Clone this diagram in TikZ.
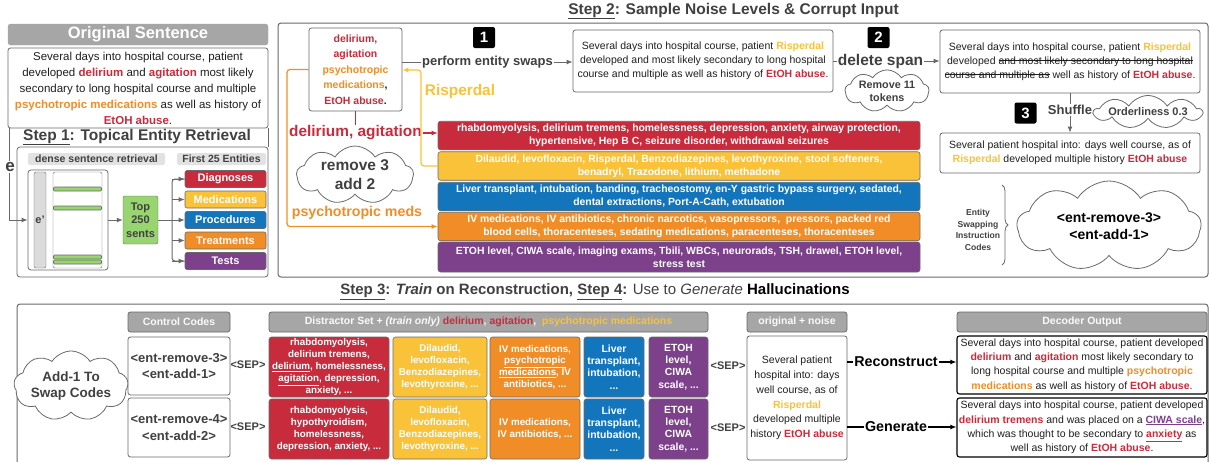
\documentclass[tikz,border=0pt]{standalone}
\usepackage{fontspec}
\setmainfont{Liberation Sans}
\usetikzlibrary{positioning,calc,arrows.meta,shapes.symbols,decorations.pathreplacing}

\definecolor{entred}{RGB}{200,43,60}
\definecolor{entyellow}{RGB}{250,194,56}
\definecolor{entorange}{RGB}{241,141,38}
\definecolor{entblue}{RGB}{19,118,189}
\definecolor{entpurple}{RGB}{125,64,138}
\definecolor{entgreen}{RGB}{152,212,112}
\definecolor{headgray}{RGB}{166,166,166}
\definecolor{lblgray}{RGB}{226,226,226}
\definecolor{txtgray}{RGB}{64,64,64}
\definecolor{boxgray}{RGB}{105,105,105}

\newcommand{\fsz}[2]{\fontsize{#1pt}{#2pt}\selectfont}
\newcommand{\entR}[1]{\textbf{\textcolor{entred}{#1}}}
\newcommand{\entY}[1]{\textbf{\textcolor{entyellow}{#1}}}
\newcommand{\entO}[1]{\textbf{\textcolor{entorange}{#1}}}
\newsavebox\strkbox
\newcommand{\strk}[1]{\sbox\strkbox{#1}\rlap{\rule[0.3em]{\wd\strkbox}{0.7pt}}\usebox\strkbox}

\begin{document}
\begin{tikzpicture}[x=1pt,y=-1pt,
  every node/.style={text=txtgray},
  wh/.style 2 args={minimum width=#1pt,minimum height=#2pt},
  sbox/.style={draw=boxgray,fill=white,rounded corners=2.5pt,line width=0.8pt,align=center,inner sep=0pt,text=black!88},
  head/.style={draw=headgray,fill=headgray,rounded corners=2.5pt,text=white,inner sep=0pt},
  hdr/.style={draw=boxgray,fill=headgray,rounded corners=2.5pt,text=white!96!gray,font=\bfseries\fsz{10.5}{12},inner sep=0pt,line width=0.8pt},
  lbl/.style={fill=lblgray,rounded corners=2pt,font=\bfseries\fsz{10.5}{12},inner sep=0pt},
  panel/.style={draw=boxgray,rounded corners=3pt,line width=0.8pt},
  frame/.style={draw=boxgray,line width=1pt},
  title/.style={font=\bfseries\fsz{15.5}{18},inner sep=0pt},
  catbox/.style={draw=boxgray,rounded corners=2pt,text=white,font=\bfseries\fsz{11}{12},inner sep=0pt,line width=0.6pt,wh={81}{17}},
  catL/.style={draw=boxgray,rounded corners=2.5pt,text=white,font=\bfseries\fsz{10.4}{13},align=center,inner sep=0pt,line width=0.6pt,wh={482}{28.5}},
  dbox/.style={draw=boxgray,rounded corners=2.5pt,text=white,font=\bfseries\fsz{9.8}{11.8},align=center,inner sep=0pt,line width=0.6pt},
  badge/.style={fill=black,rounded corners=2pt,text=white,font=\bfseries\fsz{15}{15},wh={22}{21},inner sep=0pt},
  cloudy/.style={cloud,cloud puffs=9,cloud puff arc=115,cloud ignores aspect,draw=boxgray,fill=white,line width=0.8pt,align=center,inner sep=0pt},
  conn/.style={draw=boxgray,line width=1pt},
  arr/.style={-{Latex[length=6pt,width=5pt]}},
  sep/.style={font=\bfseries\fsz{11}{12},inner sep=0pt},
  decbox/.style={sbox,draw=black,line width=1.1pt,font=\fsz{10.5}{14.3}}]

\useasboundingbox (0,0) rectangle (1210,461);

% step 1
\node[head,wh={260}{21},font=\bfseries\fsz{16.5}{18}] (origHead) at (138,34.5) {Original Sentence};
\node[sbox,wh={260}{80},font=\fsz{11.5}{16}] (origSent) at (138,88) {Several days into hospital course, patient\\
  developed \entR{delirium} and \entR{agitation} most likely\\
  secondary to long hospital course and multiple\\
  \entO{psychotropic medications} as well as history of\\
  \entR{EtOH abuse}.};
\node[title] (step1) at (137,137) {\underline{Step 1}: Topical Entity Retrieval};
\node[panel,wh={251}{130}] (retrPanel) at (142.5,212) {};
\draw[conn] (origSent.south east) -- (retrPanel.north east);
\node[lbl,wh={137}{12}] (denseLbl) at (96.5,159) {dense sentence retrieval};
\node[lbl,wh={89}{12}] (firstLbl) at (221.5,159) {First 25 Entities};
\node[panel,wh={80}{100}] (retrBox) at (68,220) {};
\node[draw=boxgray,fill=gray!28,rounded corners=2pt,wh={12}{96},font=\bfseries\fsz{11}{12},inner sep=0pt] (ebar) at (40,220) {e'};
\node[draw=boxgray,fill=white,rounded corners=2pt,wh={49}{96}] (docbar) at (77.5,220) {};
\foreach \y in {189,208,257,262}
  \draw[fill=entgreen,draw=boxgray,line width=0.6pt,rounded corners=1pt] (53.5,\y-2) rectangle (101.5,\y+2);
\node[draw=boxgray,fill=entgreen,rounded corners=2pt,wh={35}{48},font=\bfseries\fsz{11}{13.5},align=center,inner sep=0pt] (top250) at (140.5,220) {Top\\250\\sents};
\node[catbox,fill=entred] (diag) at (225.5,179) {Diagnoses};
\node[catbox,fill=entyellow] (meds) at (225.5,199.5) {Medications};
\node[catbox,fill=entblue] (proc) at (225.5,220) {Procedures};
\node[catbox,fill=entorange] (treat) at (225.5,240.5) {Treatments};
\node[catbox,fill=entpurple] (tests) at (225.5,261) {Tests};
\coordinate (branch) at (172,220);
\draw[conn,arr] (retrBox.east) -- (top250.west);
\draw[conn] (top250.east) -- (branch);
\draw[conn,rounded corners=3pt] (diag.west) -| (branch) |- (tests.west);
\foreach \n in {diag,meds,proc,treat,tests}
  \draw[conn,arr] (branch |- \n) -- (\n.west);
\draw[conn,arr] ($(origSent.south west)+(2,0)$) |- (retrBox.west);
\node[fill=white,inner sep=1pt,font=\bfseries\fsz{17}{18}] (eLbl) at (10,167) {e};

% step 2
\node[title] (step2) at (733.5,11) {\underline{Step 2}: Sample Noise Levels \& Corrupt Input};
\draw[frame,rounded corners=3pt] (278,23) rectangle (1208,277);
\node[sbox,wh={93}{83},font=\bfseries\fsz{10.5}{15.5}] (entBox) at (355.5,69.5) {\textcolor{entred}{delirium,}\\
  \textcolor{entred}{agitation}\\ \textcolor{entorange}{psychotropic}\\
  \textcolor{entorange}{medications},\\ \textcolor{entred}{EtOH abuse}.};
\node[badge] (bOne) at (484,37.5) {1};
\node[font=\bfseries\fsz{13}{14},inner sep=1pt] (swaps) at (487.5,62) {perform entity swaps};
\node[sbox,wh={260}{62},font=\fsz{10.5}{14}] (sent2) at (703,61) {Several days into hospital course, patient \entY{Risperdal}\\
  developed and most likely secondary to long hospital\\
  course and multiple as well as history of \entR{EtOH abuse}.};
\draw[conn] (entBox.east |- swaps) -- (swaps.west);
\draw[conn,arr] (swaps.east) -- (sent2.west |- swaps);
\node[badge] (bTwo) at (878.5,37.5) {2};
\node[font=\bfseries\fsz{15.5}{16},inner sep=1pt] (delSpan) at (880.5,61) {delete span};
\node[cloudy,wh={84}{38},font=\bfseries\fsz{10.8}{13}] (rmEleven) at (887,91) {Remove 11\\tokens};
\node[sbox,wh={260}{63},font=\fsz{10.5}{14}] (sent3) at (1070,61.5) {Several days into hospital course, patient \entY{Risperdal}\\
  developed \strk{and most likely secondary to long hospital}\\
  \strk{course and multiple as} well as history of \entR{EtOH abuse}.};
\draw[conn] (sent2.east |- delSpan) -- (delSpan.west);
\draw[conn,arr] (delSpan.east) -- (sent3.west |- delSpan);
\node[sbox,wh={260}{40},font=\fsz{10.5}{14}] (sent4) at (1070,153) {Several patient hospital into: days well course, as of\\
  \entY{Risperdal} developed multiple history \entR{EtOH abuse}};
\node[fill=white,font=\bfseries\fsz{13}{14},inner sep=1.5pt] (shuf) at (1070,110) {Shuffle};
\draw[conn] (sent3.south) -- (shuf.north);
\draw[conn,arr] (shuf.south) -- (sent4.north);
\node[badge] (bThree) at (1025.5,113) {3};
\node[cloudy,wh={96}{33},font=\bfseries\fsz{11}{12}] (order) at (1148,112) {Orderliness 0.3};

\node[catL,fill=entred] (redL) at (679,135.5) {rhabdomyolysis, delirium tremens, homelessness, depression, anxiety, airway protection,\\
  hypertensive, Hep B C, seizure disorder, withdrawal seizures};
\node[catL,fill=entyellow] (yelL) at (679,166) {Dilaudid, levofloxacin, Risperdal, Benzodiazepines, levothyroxine, stool softeners,\\
  benadryl, Trazodone, lithium, methadone};
\node[catL,fill=entblue] (bluL) at (679,196.5) {Liver transplant, intubation, banding, tracheostomy, en-Y gastric bypass surgery, sedated,\\
  dental extractions, Port-A-Cath, extubation};
\node[catL,fill=entorange] (orgL) at (679,226.5) {IV medications, IV antibiotics, chronic narcotics, vasopressors,\ \ pressors, packed red\\
  blood cells, thoracenteses, sedating medications, paracenteses, thoracenteses};
\node[catL,fill=entpurple,wh={482}{30}] (purL) at (679,257) {ETOH level, CIWA scale, imaging exams, Tbili, WBCs, neurorads, TSH, drawel, ETOH level,\\
  stress test};

\node[font=\bfseries\fsz{15.4}{16},text=entred,inner sep=1pt] (delAg) at (355.5,133) {delirium, agitation};
\draw[draw=entred,line width=1.2pt] (entBox.south) -- (delAg.north);
\draw[draw=entred,line width=1.2pt,arr] (delAg.east) -- (redL.west |- delAg);
\coordinate (risTurn) at (421,70);
\draw[draw=entyellow,line width=1.2pt,rounded corners=3pt,arr] (yelL.west) -| (risTurn) -- (entBox.east |- risTurn);
\node[font=\bfseries\fsz{15.4}{16},text=entyellow,inner sep=0pt] (risLbl) at (460,92) {Risperdal};
\coordinate (psyTurn) at (287,226.5);
\draw[draw=entorange,line width=1.2pt,rounded corners=3pt,arr] (entBox.west) -| (psyTurn) -- (orgL.west);
\node[font=\bfseries\fsz{14.2}{15},text=entorange,inner sep=0pt] (psyLbl) at (357,213) {psychotropic meds};
\node[cloudy,wh={117}{54},font=\bfseries\fsz{15.5}{19}] (rmThree) at (355,175) {remove 3\\add 2};

\node[font=\bfseries\fsz{8.6}{11.7},align=center,inner sep=0pt] (codesLbl) at (978,230) {Entity\\Swapping\\Instruction\\Codes};
\draw[draw=boxgray,line width=0.8pt,decorate,decoration={brace,amplitude=6pt}] (1002,185) -- (1002,265);
\node[cloudy,wh={184}{90},font=\bfseries\fsz{14}{17},text=black] (codeCloud) at (1109,226) {<ent-remove-3>\\<ent-add-1>};

% step 3
\node[title,font=\fsz{15}{18}] (step3) at (595,292) {\textbf{\underline{Step 3}: \textit{Train} on Reconstruction, \underline{Step 4}:} Use to \textit{Generate} \textbf{\textcolor{black}{Hallucinations}}};
\draw[frame,rounded corners=3pt] (17,463) -- (17,304) -- (1208,304) -- (1208,463);

\node[hdr,wh={102}{20}] (ctrlHead) at (179,322) {Control Codes};
\node[sbox,wh={102}{58},font=\bfseries\fsz{13}{16.5},text=txtgray] (codeA) at (179,366) {<ent-remove-3>\\<ent-add-1>};
\node[sbox,wh={102}{59},font=\bfseries\fsz{13}{16.5},text=txtgray] (codeB) at (179,427.5) {<ent-remove-4>\\<ent-add-2>};
\node[cloudy,wh={100}{70},font=\bfseries\fsz{13.5}{16}] (addOne) at (71,386) {Add-1 To\\Swap Codes};
\node[sep] (sepA) at (248,365) {<SEP>};
\node[sep] (sepB) at (248,427) {<SEP>};

\node[hdr,wh={439}{20}] (distHead) at (488.5,322) {Distractor Set + \textit{(train only)} \textcolor{entred}{delirium}, \textcolor{entred}{agitation},\ \ \textcolor{entyellow}{psychotropic medications}};
\node[dbox,fill=entred,wh={120}{60}] (dRedA) at (329,367) {rhabdomyolysis,\\ delirium tremens,\\ \underline{delirium}, homelessness,\\ \underline{agitation}, depression,\\ anxiety, ...};
\node[dbox,fill=entyellow,wh={94}{60}] (dYelA) at (440,367) {Dilaudid,\\ levofloxacin,\\ Benzodiazepines,\\ levothyroxine, ...};
\node[dbox,fill=entorange,wh={90}{60}] (dOrgA) at (535,367) {IV medications,\\ \underline{psychotropic}\\ \underline{medications}, IV\\ antibiotics, ...};
\node[dbox,fill=entblue,wh={60}{60},font=\bfseries\fsz{10.4}{12.2}] (dBluA) at (614,367) {Liver\\ transplant,\\ intubation,\\ ...};
\node[dbox,fill=entpurple,wh={59}{60},font=\bfseries\fsz{10.4}{12.2}] (dPurA) at (678.5,367) {ETOH\\ level,\\ CIWA\\ scale, ...};
\node[dbox,fill=entred,wh={120}{60}] (dRedB) at (329,429) {rhabdomyolysis,\\ hypothyroidism,\\ homelessness,\\ depression, anxiety, ...};
\node[dbox,fill=entyellow,wh={94}{60}] (dYelB) at (440,429) {Dilaudid,\\ levofloxacin,\\ Benzodiazepines,\\ levothyroxine, ...};
\node[dbox,fill=entorange,wh={90}{60}] (dOrgB) at (535,429) {IV medications,\\ IV antibiotics, ...};
\node[dbox,fill=entblue,wh={60}{60},font=\bfseries\fsz{10.4}{12.2}] (dBluB) at (614,429) {Liver\\ transplant,\\ intubation,\\ ...};
\node[dbox,fill=entpurple,wh={59}{60},font=\bfseries\fsz{10.4}{12.2}] (dPurB) at (678.5,429) {ETOH\\ level,\\ CIWA\\ scale, ...};
\node[sep] (sepC) at (728,366) {<SEP>};
\node[sep] (sepD) at (728,428) {<SEP>};

\node[hdr,wh={100}{20}] (noiseHead) at (797,322) {original + noise};
\node[sbox,wh={100}{124},font=\fsz{10.5}{14.7}] (noiseBox) at (797,398) {Several patient\\ hospital into: days\\ well course, as of\\ \entY{Risperdal}\\ developed multiple\\ history \entR{EtOH abuse}};
\node[hdr,wh={250}{20}] (decHead) at (1082,322) {Decoder Output};
\node[decbox,wh={250}{58}] (decA) at (1082,365) {Several days into hospital course, patient developed\\
  \entR{delirium} and \entR{agitation} most likely secondary to\\
  long hospital course and multiple \entO{psychotropic}\\
  \entO{medications} as well as history of \entR{EtOH abuse}.};
\node[decbox,wh={250}{59}] (decB) at (1082,427.5) {Several days into hospital course, patient developed\\
  \entR{delirium tremens} and was placed on a \textbf{\textcolor{entpurple}{\underline{CIWA scale}}},\\
  which was thought to be secondary to \entR{\underline{anxiety}} as\\
  well as history of \entR{EtOH abuse}.};
\node[font=\bfseries\fsz{14.3}{15},text=black,inner sep=1pt] (recon) at (896,362) {Reconstruct};
\node[font=\bfseries\fsz{14.3}{15},text=black,inner sep=1pt] (gener) at (896,427) {Generate};
\draw[black,line width=1.3pt] (noiseBox.east |- recon) -- (recon.west);
\draw[black,line width=1.3pt,arr] (recon.east) -- (decA.west |- recon);
\draw[black,line width=1.3pt] (noiseBox.east |- gener) -- (gener.west);
\draw[black,line width=1.3pt,arr] (gener.east) -- (decB.west |- gener);
\end{tikzpicture}
\end{document}
